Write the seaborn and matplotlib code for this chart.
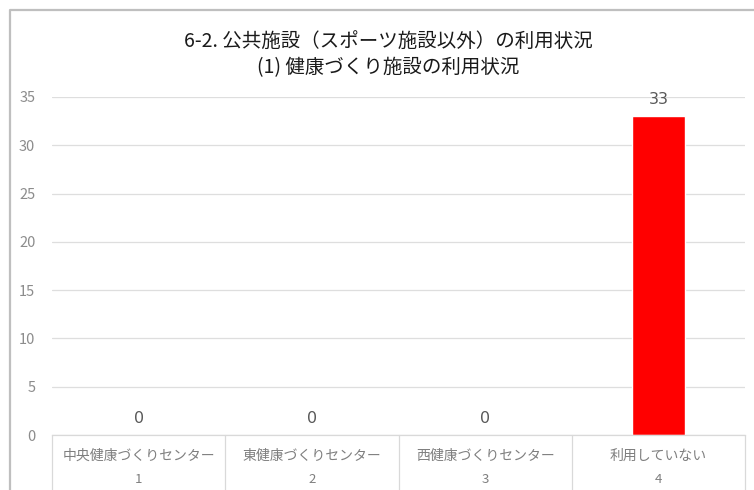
import matplotlib
matplotlib.use("Agg")
import matplotlib.pyplot as plt
import matplotlib.transforms as mtransforms
from matplotlib.lines import Line2D
import seaborn as sns
import pandas as pd

title_lines = ["6-2. 公共施設（スポーツ施設以外）の利用状況", "(1) 健康づくり施設の利用状況"]
categories = ["中央健康づくりセンター", "東健康づくりセンター", "西健康づくりセンター", "利用していない"]
codes = ["1", "2", "3", "4"]
values = [0, 0, 0, 33]
yticks = [0, 5, 10, 15, 20, 25, 30, 35]

sns.set_theme(style="white")
plt.rcParams['font.family'] = ['Noto Sans CJK JP', 'DejaVu Sans']

W, H = 754, 490
fig = plt.figure(figsize=(W / 100, H / 100), dpi=100)
fig.patch.set_facecolor("white")

left, right, bottom_px, top_px = 52, 745, 435, 97
ax = fig.add_axes([left / W, 1 - bottom_px / H, (right - left) / W, (bottom_px - top_px) / H])

df = pd.DataFrame({"cat": categories, "val": values})
sns.barplot(data=df, x="cat", y="val", color="#ff0000", width=0.31, ax=ax,
            saturation=1, order=categories)

ax.set_xlim(-0.5, len(categories) - 0.5)
ax.set_ylim(0, 35)
ax.set_yticks(yticks)
ax.set_yticklabels([str(t) for t in yticks], color="#8c8c8c", fontsize=10.5)
ax.tick_params(axis="y", length=0, pad=12)
ax.tick_params(axis="x", length=0)
ax.set_xticklabels([])
ax.set_xlabel("")
ax.set_ylabel("")
ax.grid(axis="y", color="#dedede", linewidth=0.9)
ax.set_axisbelow(True)
for s in ["left", "right", "top"]:
    ax.spines[s].set_visible(False)
ax.spines["bottom"].set_color("#d9d9d9")
ax.spines["bottom"].set_linewidth(0.9)

# value labels
for p, v in zip(ax.patches, values):
    ax.annotate(str(v), (p.get_x() + p.get_width() / 2, v), xytext=(0, 12),
                textcoords="offset points", ha="center", va="center",
                fontsize=11.5, color="#595959", family=["DejaVu Sans"])

# category table below axis
trans = mtransforms.blended_transform_factory(ax.transData, fig.transFigure)
for i, (c, n) in enumerate(zip(categories, codes)):
    ax.text(i, 1 - 456 / H, c, transform=trans, ha="center", va="center",
            fontsize=10, color="#7f7f7f", clip_on=False)
    ax.text(i, 1 - 479 / H, n, transform=trans, ha="center", va="center",
            fontsize=9.5, color="#7f7f7f", clip_on=False)
for k in range(len(categories) + 1):
    x = k - 0.5
    ax.add_line(Line2D([x, x], [1 - bottom_px / H, 0], transform=trans,
                       color="#d9d9d9", linewidth=0.9, clip_on=False))

# titles
fig.text(388 / W, 1 - 41 / H, title_lines[0], ha="center", va="center",
         fontsize=14, color="#1a1a1a")
fig.text(388 / W, 1 - 68 / H, title_lines[1], ha="center", va="center",
         fontsize=14, color="#1a1a1a")

# outer chart border (cropped screenshot)
fig.add_artist(Line2D([10 / W, 10 / W, 1.0], [0, 1 - 10 / H, 1 - 10 / H],
                      transform=fig.transFigure, color="#bfbfbf", linewidth=1.6))

fig.savefig("out.png", dpi=100, facecolor="white")
